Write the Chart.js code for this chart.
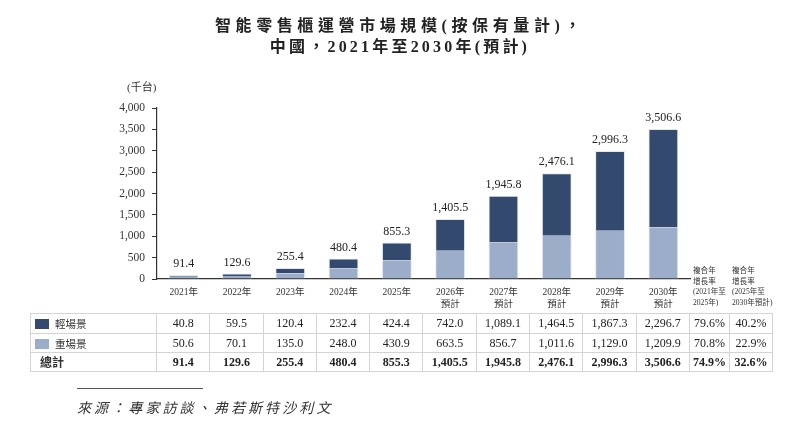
<!DOCTYPE html>
<html>
<head>
<meta charset="utf-8">
<script src="https://cdn.jsdelivr.net/npm/chart.js@4.4.1/dist/chart.umd.min.js"></script>
<style>
  html, body { margin: 0; padding: 0; background: #fff; }
  #wrap { position: relative; width: 800px; height: 422px; overflow: hidden; font-family: "Liberation Serif", "Noto Sans CJK TC", serif; color: #222; }
  #chart { position: absolute; left: 0; top: 0; }
  .title { position: absolute; left: 0; width: 800px; text-align: center; font-weight: 700; font-size: 16px; color: #222; }
  .unit { position: absolute; left: 127px; top: 78px; font-size: 11px; color: #333; }
  .cagr { position: absolute; top: 266px; font-size: 7.6px; line-height: 10.7px; color: #333; white-space: nowrap; }
  table { position: absolute; left: 30px; top: 313px; border-collapse: collapse; table-layout: fixed; font-size: 12px; color: #222; }
  td { border: 1px solid #d4d4d4; text-align: center; padding: 0; height: 18px; white-space: nowrap; }
  td.lab { text-align: left; font-size: 10.5px; color: #333; }
  .sw { display: inline-block; width: 14px; height: 10px; vertical-align: -1px; margin: 0 6px 0 4px; }
  tr.tot td { font-weight: 700; }
  tr.tot td.lab { font-size: 12px; padding-left: 9px; }
  .rule { position: absolute; left: 77px; top: 388px; width: 126px; border-top: 1.5px solid #555; }
  .src { position: absolute; left: 77px; top: 397px; font-size: 14px; font-style: italic; letter-spacing: 3.1px; color: #333; }
</style>
</head>
<body>
<div id="wrap">
  <canvas id="chart" width="800" height="422"></canvas>
  <div class="title" style="top:12px; letter-spacing:4.6px">智能零售櫃運營市場規模(按保有量計)，</div>
  <div class="title" style="top:33px; letter-spacing:3.2px">中國，2021年至2030年(預計)</div>
  <div class="unit">(千台)</div>
  <div class="cagr" style="left:693px">複合年<br>增長率<br>(2021年至<br>2025年)</div>
  <div class="cagr" style="left:732px">複合年<br>增長率<br>(2025年至<br>2030年預計)</div>
  <table id="tbl"></table>
  <div class="rule"></div>
  <div class="src">來源：專家訪談、弗若斯特沙利文</div>
</div>
<script>
// chart data
const years = ['2021年', '2022年', '2023年', '2024年', '2025年', '2026年', '2027年', '2028年', '2029年', '2030年'];
const forecastFrom = 5; // index of first forecast year
const lightScene = [40.8, 59.5, 120.4, 232.4, 424.4, 742.0, 1089.1, 1464.5, 1867.3, 2296.7];
const heavyScene = [50.6, 70.1, 135.0, 248.0, 430.9, 663.5, 856.7, 1011.6, 1129.0, 1209.9];
const totals = [91.4, 129.6, 255.4, 480.4, 855.3, 1405.5, 1945.8, 2476.1, 2996.3, 3506.6];
const cagrLight = ['79.6%', '40.2%'];
const cagrHeavy = ['70.8%', '22.9%'];
const cagrTotal = ['74.9%', '32.6%'];
const yTicks = [0, 500, 1000, 1500, 2000, 2500, 3000, 3500, 4000];

const darkColor = '#334a6e';
const lightColor = '#9cadca';

const fmt = v => v.toLocaleString('en-US', { minimumFractionDigits: 1, maximumFractionDigits: 1 });

// table below the chart
const tbl = document.getElementById('tbl');
const colWidths = [126].concat(years.map(() => 53.3)).concat([40, 43]);
let html = '<colgroup>' + colWidths.map(w => '<col style="width:' + w + 'px">').join('') + '</colgroup>';
html += '<tr style="height:20px"><td class="lab"><span class="sw" style="background:' + darkColor + '"></span>輕場景</td>' +
  lightScene.map(v => '<td>' + fmt(v) + '</td>').join('') + cagrLight.map(v => '<td>' + v + '</td>').join('') + '</tr>';
html += '<tr style="height:19px"><td class="lab"><span class="sw" style="background:' + lightColor + '"></span>重場景</td>' +
  heavyScene.map(v => '<td>' + fmt(v) + '</td>').join('') + cagrHeavy.map(v => '<td>' + v + '</td>').join('') + '</tr>';
html += '<tr class="tot" style="height:18px"><td class="lab">總計</td>' +
  totals.map(v => '<td>' + fmt(v) + '</td>').join('') + cagrTotal.map(v => '<td>' + v + '</td>').join('') + '</tr>';
tbl.innerHTML = html;

// totals above each stacked bar
const totalLabels = {
  id: 'totalLabels',
  afterDatasetsDraw(chart) {
    const ctx = chart.ctx;
    const meta = chart.getDatasetMeta(1);
    ctx.save();
    ctx.font = '12px "Liberation Serif"';
    ctx.fillStyle = '#222';
    ctx.textAlign = 'center';
    ctx.textBaseline = 'bottom';
    meta.data.forEach((bar, i) => {
      ctx.fillText(fmt(totals[i]), bar.x, bar.y - 5);
    });
    ctx.restore();
  }
};

const labels = years.map((y, i) => i >= forecastFrom ? [y, '預計'] : y);

new Chart(document.getElementById('chart'), {
  type: 'bar',
  data: {
    labels: labels,
    datasets: [
      {
        label: '重場景',
        data: heavyScene,
        backgroundColor: lightColor,
        borderColor: '#e4e8ee',
        borderWidth: { left: 1, right: 1, top: 0, bottom: 0 },
        categoryPercentage: 0.56,
        barPercentage: 1
      },
      {
        label: '輕場景',
        data: lightScene,
        backgroundColor: darkColor,
        borderColor: '#e4e8ee',
        borderWidth: { left: 1, right: 1, top: 1, bottom: 0 },
        categoryPercentage: 0.56,
        barPercentage: 1
      }
    ]
  },
  options: {
    responsive: false,
    animation: false,
    layout: { padding: { left: 97, right: 110, top: 108, bottom: 113 } },
    plugins: { legend: { display: false }, tooltip: { enabled: false } },
    scales: {
      x: {
        stacked: true,
        afterFit: s => { s.height = 30; },
        grid: { display: false, drawTicks: false },
        border: { color: '#333', width: 1.2 },
        ticks: { color: '#333', font: { family: '"Liberation Serif", "Noto Sans CJK TC"', size: 9.5 }, padding: 8, maxRotation: 0, autoSkip: false }
      },
      y: {
        stacked: true,
        min: 0,
        max: 4000,
        afterFit: s => { s.width = 60; },
        afterBuildTicks: s => { s.ticks = yTicks.map(v => ({ value: v })); },
        grid: { drawOnChartArea: false, tickLength: 5, color: '#333' },
        border: { color: '#333', width: 1.2 },
        ticks: { color: '#333', font: { family: '"Liberation Serif"', size: 11.5 }, padding: 7,
          callback: v => v.toLocaleString('en-US') }
      }
    }
  },
  plugins: [totalLabels]
});
</script>
</body>
</html>
